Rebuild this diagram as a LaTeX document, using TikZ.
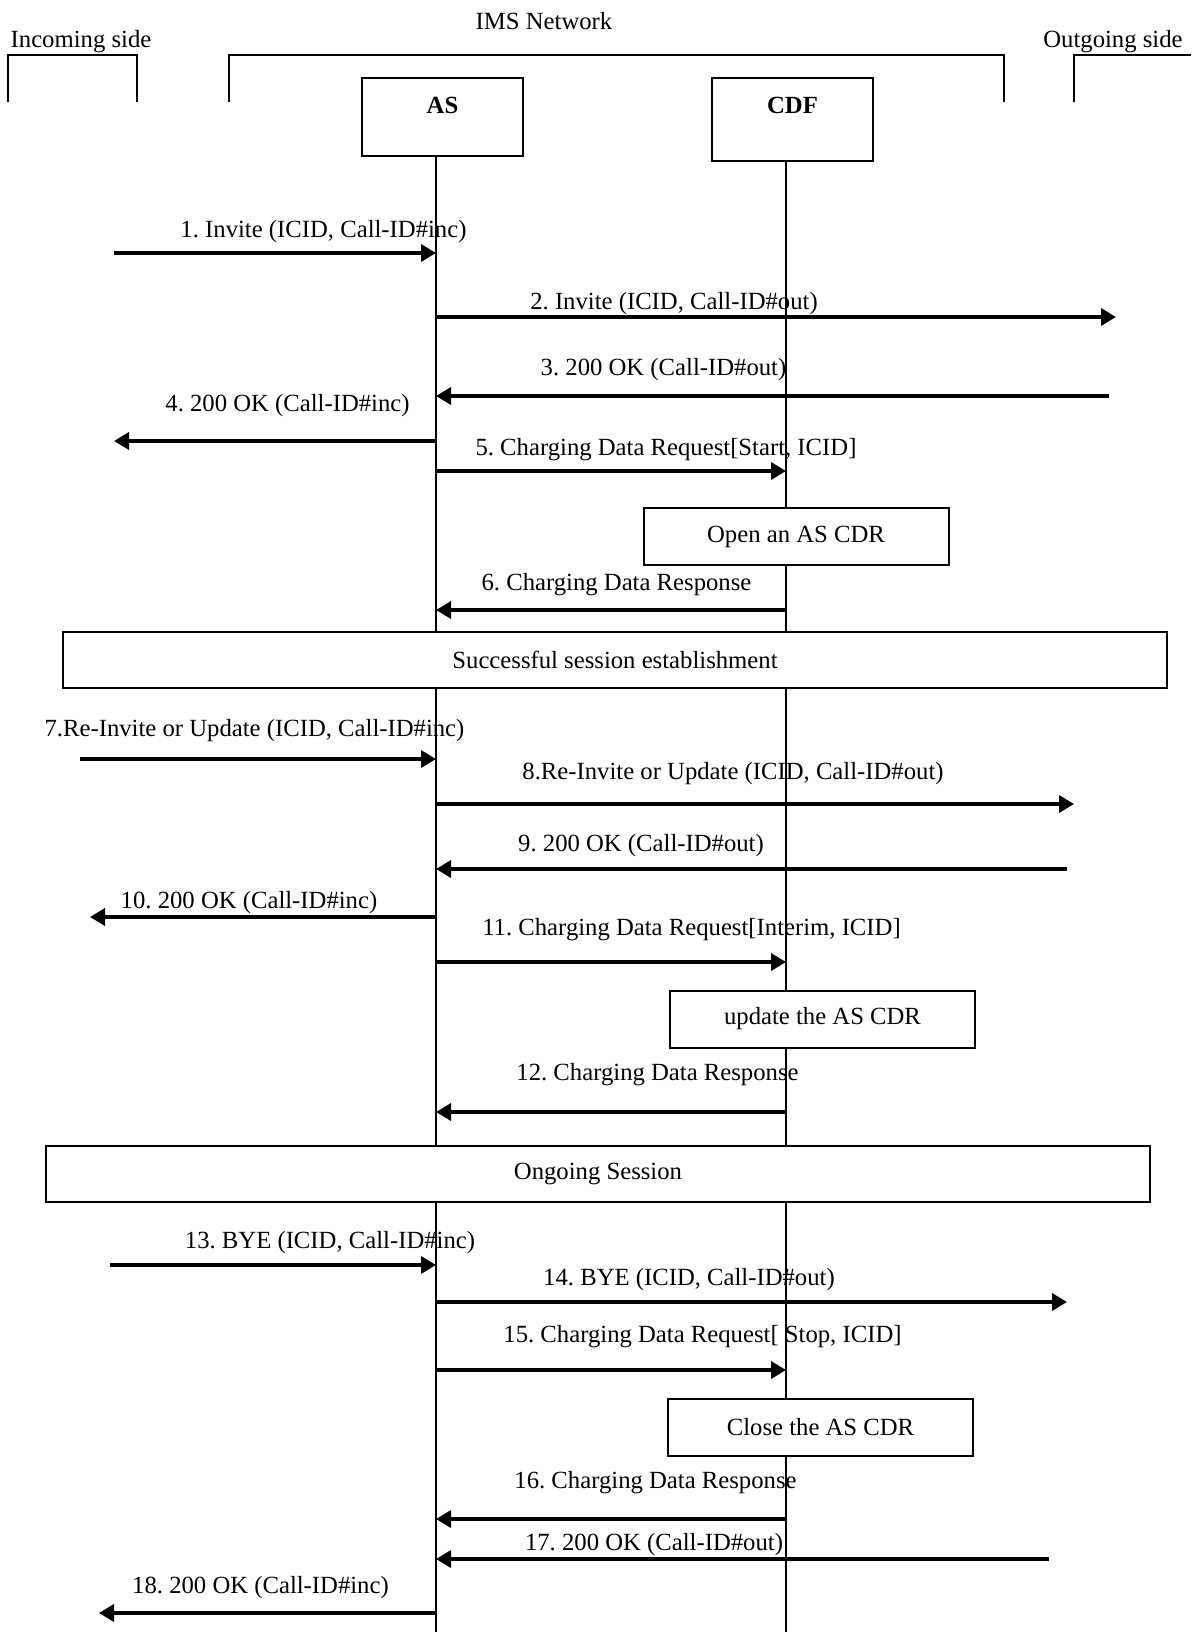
\documentclass[tikz,border=0pt]{standalone}
\usepackage{fontspec}
\setmainfont{Liberation Serif}
\usetikzlibrary{arrows.meta}
\frenchspacing

\tikzset{
  msg/.style={draw=black,line width=3.5pt,-{Triangle[length=15pt,width=17pt]}},
  lifeline/.style={draw=black,line width=1.8pt},
  bracket/.style={draw=black,line width=2pt},
  partbox/.style={draw=black,line width=2pt,fill=white,minimum width=161pt,inner sep=0pt},
  actbox/.style={draw=black,line width=2pt,fill=white,minimum width=305pt,minimum height=57pt,inner sep=0pt},
  phasebox/.style={draw=black,line width=2.5pt,fill=white,minimum width=1104pt,minimum height=56pt,inner sep=0pt},
  lbl/.style={inner sep=0pt}
}

\begin{document}
\begin{tikzpicture}[x=1pt,y=-1pt,font=\fontsize{24.7}{29}\selectfont]
\useasboundingbox (0,0) rectangle (1191,1632);
% sides and network:
\node[lbl] (incoming) at (81,42) {Incoming side};
\node[lbl] (ims) at (544,21) {IMS Network};
\node[lbl] (outgoing) at (1113,42) {Outgoing side};
\path[bracket] (8,102) -- (8,55) -- (137,55) -- (137,102);
\path[bracket] (229,102) -- (229,55) -- (1004,55) -- (1004,102);
\path[bracket] (1074,102) -- (1074,55) -- (1191,55);
% participants:
\node[partbox,minimum height=78pt] (as) at (442.5,117) {};
\node[partbox,minimum height=83pt] (cdf) at (792.5,119.5) {};
\node[lbl,font=\fontsize{24.7}{29}\selectfont\bfseries,yshift=-12pt] (astxt) at (as.north |- 0,93) {AS};
\node[lbl,font=\fontsize{24.7}{29}\selectfont\bfseries,yshift=-12pt] (cdftxt) at (cdf.north |- 0,93) {CDF};
% lifelines:
\coordinate (asl) at (436,156);
\coordinate (cdfl) at (786,161);
\coordinate (bot) at (0,1632);
\path[lifeline] (asl) -- (asl |- bot);
\path[lifeline] (cdfl) -- (cdfl |- bot);
% free ends of the messages:
\coordinate (m1) at (114,253);
\coordinate (m2) at (1116,317);
\coordinate (m3) at (1109,396);
\coordinate (m4) at (114,441);
\coordinate (m5) at (0,471);
\coordinate (m6) at (0,610);
\coordinate (m7) at (80,759);
\coordinate (m8) at (1074,804);
\coordinate (m9) at (1067,869);
\coordinate (m10) at (90,917);
\coordinate (m11) at (0,962);
\coordinate (m12) at (0,1112);
\coordinate (m13) at (110,1265);
\coordinate (m14) at (1067,1302);
\coordinate (m15) at (0,1370);
\coordinate (m16) at (0,1519);
\coordinate (m17) at (1049,1559);
\coordinate (m18) at (99,1613);
% set-up:
\draw[msg] (m1) -- (m1 -| asl);
\node[lbl] (l1) at (323.5,232) {1. Invite (ICID, Call-ID\#inc)};
\draw[msg] (m2 -| asl) -- (m2);
\node[lbl] (l2) at (674,304) {2. Invite (ICID, Call-ID\#out)};
\draw[msg] (m3) -- (m3 -| asl);
\node[lbl] (l3) at (663.5,370) {3. 200 OK (Call-ID\#out)};
\draw[msg] (m4 -| asl) -- (m4);
\node[lbl] (l4) at (287.5,406) {4. 200 OK (Call-ID\#inc)};
\draw[msg] (m5 -| asl) -- (m5 -| cdfl);
\node[lbl] (l5) at (666,450) {5. Charging Data Request[Start, ICID]};
\node[actbox] (open) at (796,536.5) {Open an AS CDR};
\draw[msg] (m6 -| cdfl) -- (m6 -| asl);
\node[lbl] (l6) at (616.5,585) {6. Charging Data Response};
\node[phasebox] (success) at (615,660) {Successful session establishment};
% update:
\draw[msg] (m7) -- (m7 -| asl);
\node[lbl] (l7) at (254.5,731) {7.Re-Invite or Update (ICID, Call-ID\#inc)};
\draw[msg] (m8 -| asl) -- (m8);
\node[lbl] (l8) at (733,774) {8.Re-Invite or Update (ICID, Call-ID\#out)};
\draw[msg] (m9) -- (m9 -| asl);
\node[lbl] (l9) at (641,846) {9. 200 OK (Call-ID\#out)};
\draw[msg] (m10 -| asl) -- (m10);
\node[lbl] (l10) at (249,903) {10. 200 OK (Call-ID\#inc)};
\draw[msg] (m11 -| asl) -- (m11 -| cdfl);
\node[lbl] (l11) at (691.5,930) {11. Charging Data Request[Interim, ICID]};
\node[actbox] (update) at (822.5,1019) {update the AS CDR};
\draw[msg] (m12 -| cdfl) -- (m12 -| asl);
\node[lbl] (l12) at (657.5,1075) {12. Charging Data Response};
\node[phasebox] (ongoing) at (598,1174) {Ongoing Session};
% release:
\draw[msg] (m13) -- (m13 -| asl);
\node[lbl] (l13) at (330,1243) {13. BYE (ICID, Call-ID\#inc)};
\draw[msg] (m14 -| asl) -- (m14);
\node[lbl] (l14) at (689,1280) {14. BYE (ICID, Call-ID\#out)};
\draw[msg] (m15 -| asl) -- (m15 -| cdfl);
\node[lbl] (l15) at (702.5,1337) {15. Charging Data Request[ Stop, ICID]};
\node[actbox] (close) at (820.5,1427.5) {Close the AS CDR};
\draw[msg] (m16 -| cdfl) -- (m16 -| asl);
\node[lbl] (l16) at (655.5,1483) {16. Charging Data Response};
\draw[msg] (m17) -- (m17 -| asl);
\node[lbl] (l17) at (654,1545) {17. 200 OK (Call-ID\#out)};
\draw[msg] (m18 -| asl) -- (m18);
\node[lbl] (l18) at (260.5,1588) {18. 200 OK (Call-ID\#inc)};
\end{tikzpicture}
\end{document}
